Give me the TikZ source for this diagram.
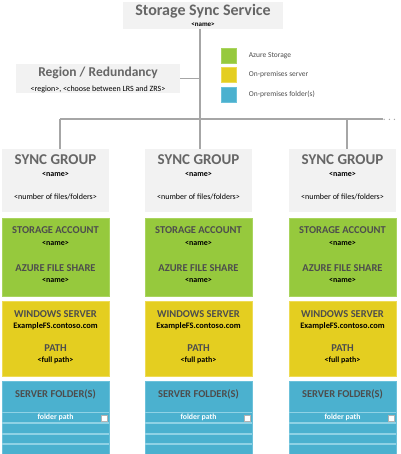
\documentclass[tikz,border=0pt]{standalone}
\usepackage{fontspec}
\setmainfont{Carlito}
\usetikzlibrary{positioning}
\definecolor{boxgray}{HTML}{F2F2F2}
\definecolor{wiregray}{HTML}{A6A6A6}
\definecolor{headgray}{HTML}{666666}
\definecolor{darkhead}{HTML}{4D4D4D}
\definecolor{azure}{HTML}{96C93D}
\definecolor{azureedge}{HTML}{A9D45E}
\definecolor{onprem}{HTML}{E4CE20}
\definecolor{onpremedge}{HTML}{EEDB55}
\definecolor{folder}{HTML}{4BB1CF}
\definecolor{folderedge}{HTML}{6CC1DA}
\definecolor{rowline}{HTML}{8FD2E5}

\tikzset{
  wire/.style={draw=wiregray, line width=1.5pt},
  panel/.style={anchor=north west, minimum width=107pt, inner sep=0pt, outer sep=0pt},
  keybox/.style={minimum size=15pt, inner sep=0pt},
  title/.style={font=\fontsize{16}{18}\selectfont\bfseries, text=headgray, inner sep=0pt},
  head/.style={font=\fontsize{15}{17}\selectfont\bfseries, text=headgray, inner sep=0pt},
  subhead/.style={font=\fontsize{10.5}{12}\selectfont\bfseries, text=darkhead, inner sep=0pt},
  tag/.style={font=\fontsize{8}{9}\selectfont\bfseries, text=black, inner sep=0pt},
  note/.style={font=\fontsize{8}{9}\selectfont, text=black, inner sep=0pt},
  keytext/.style={font=\fontsize{7.5}{9}\selectfont, text=darkhead, inner sep=0pt, anchor=west}
}

\begin{document}
\begin{tikzpicture}[x=1pt,y=-1pt]
\useasboundingbox (0,0) rectangle (400,454);

\node[fill=boxgray, minimum width=160pt, minimum height=27pt, inner sep=0pt] (sss) at (203,15.5) {};
\node[title] at ([yshift=4.5pt]sss.center) {Storage Sync Service};
\node[tag, font=\fontsize{7}{8}\selectfont\bfseries] at ([yshift=-9.5pt]sss.center) {<name>};

\node[fill=boxgray, minimum width=164pt, minimum height=29pt, inner sep=0pt] (region) at (98,78.5) {};
\node[title, font=\fontsize{13.5}{15}\selectfont\bfseries] at ([yshift=5.5pt]region.center) {Region / Redundancy};
\node[note] at ([yshift=-10.5pt]region.center) {<region>, <choose between LRS and ZRS>};

\foreach \c/\e/\t [count=\k] in {azure/azureedge/Azure Storage, onprem/onpremedge/On-premises server, folder/folderedge/On-premises folder(s)} {
  \node[keybox, fill=\c, draw=\e] (key\k) at (229,36+19.5*\k) {};
  \node[keytext, right=12pt of key\k] {\t};
}

\coordinate (hub) at (200,119);
\draw[wire] (sss.south -| hub) -- (hub);
\draw[wire] (region.east) -- (region.east -| hub);
\node[inner sep=0pt, anchor=base west, text=wiregray, font=\fontsize{9}{10}\selectfont\bfseries] (more) at (383,121) {. . .};

\foreach \i/\x/\d in {1/2/60, 2/145/200, 3/289/347} {
  \coordinate (drop\i) at (\d,119);

  \node[panel, fill=boxgray, minimum height=63pt] (group\i) at (\x,149) {};
  \node[head] at ([yshift=-11pt]group\i.north) {SYNC GROUP};
  \node[tag] at ([yshift=-25pt]group\i.north) {<name>};
  \node[note] at ([yshift=-48pt]group\i.north) {<number of files/folders>};
  \draw[wire] (drop\i) -- (drop\i |- group\i.north);

  \node[panel, fill=azure, draw=azureedge, minimum height=78pt] (storage\i) at (\x,218) {};
  \node[subhead] at ([yshift=-12pt]storage\i.north) {STORAGE ACCOUNT};
  \node[tag] at ([yshift=-25pt]storage\i.north) {<name>};
  \node[subhead] at ([yshift=-50pt]storage\i.north) {AZURE FILE SHARE};
  \node[tag] at ([yshift=-62pt]storage\i.north) {<name>};

  \node[panel, fill=onprem, draw=onpremedge, minimum height=75pt] (server\i) at (\x,301) {};
  \node[subhead] at ([yshift=-13pt]server\i.north) {WINDOWS SERVER};
  \node[tag, font=\fontsize{8.4}{9}\selectfont\bfseries] at ([yshift=-25pt]server\i.north) {ExampleFS.contoso.com};
  \node[subhead] at ([yshift=-47pt]server\i.north) {PATH};
  \node[tag] at ([yshift=-59pt]server\i.north) {<full path>};

  \node[panel, fill=folder, draw=folderedge, minimum height=74pt] (folder\i) at (\x,381) {};
  \node[subhead] at ([yshift=-13pt]folder\i.north) {SERVER FOLDER(S)};
  \draw[draw=rowline, line width=0.6pt] ([yshift=-31pt]folder\i.north west) -- ([yshift=-31pt]folder\i.north east);
  \foreach \r in {42,53,63}
    \draw[draw=rowline, line width=1.5pt] ([yshift=-\r pt]folder\i.north west) -- ([yshift=-\r pt]folder\i.north east);
  \node[tag, text=white, font=\fontsize{7.8}{9}\selectfont\bfseries] at ([yshift=-36pt]folder\i.north) {folder path};
  \node[fill=white, draw=gray!60, minimum size=6pt, inner sep=0pt] (pick\i) at ([xshift=-5pt,yshift=-37pt]folder\i.north east) {};
}

\draw[wire] (drop1) -- (hub -| more.west);
\end{tikzpicture}
\end{document}
